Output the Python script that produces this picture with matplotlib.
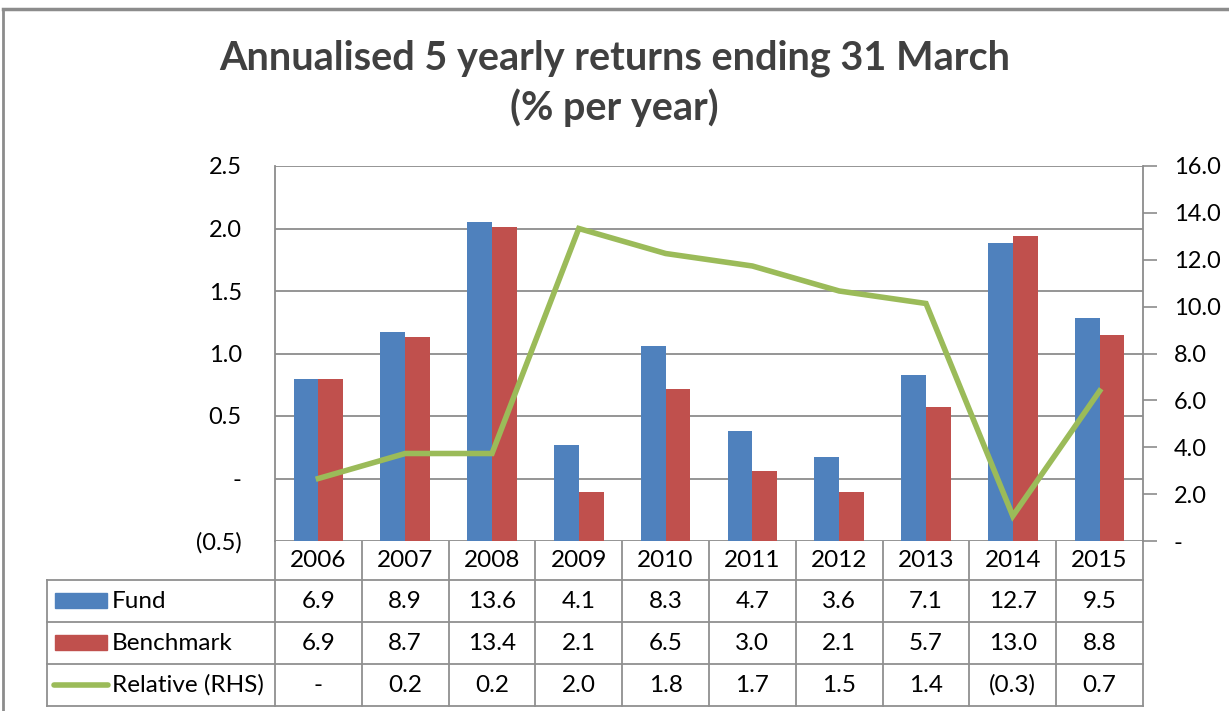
import matplotlib.pyplot as plt
import numpy as np

plt.rcParams['font.family'] = ['Lato', 'DejaVu Sans']

# data
years = ["2006", "2007", "2008", "2009", "2010", "2011", "2012", "2013", "2014", "2015"]
fund = [6.9, 8.9, 13.6, 4.1, 8.3, 4.7, 3.6, 7.1, 12.7, 9.5]
benchmark = [6.9, 8.7, 13.4, 2.1, 6.5, 3.0, 2.1, 5.7, 13.0, 8.8]
relative = [0.0, 0.2, 0.2, 2.0, 1.8, 1.7, 1.5, 1.4, -0.3, 0.7]

left_ticks = [-0.5, 0.0, 0.5, 1.0, 1.5, 2.0, 2.5]
right_ticks = [0, 2, 4, 6, 8, 10, 12, 14, 16]

BLUE = "#4F81BD"
RED = "#C0504D"
GREEN = "#9BBB59"
GRID = "#8C8C8C"


def fmt(v, nd=1):
    if abs(v) < 1e-9:
        return "-"
    if v < 0:
        return f"({abs(v):.{nd}f})"
    return f"{v:.{nd}f}"


W, H = 1229, 711
fig = plt.figure(figsize=(W / 100, H / 100), dpi=100)

# plot area in pixels
L, R, T, B = 275, 1143, 166, 541
ax = fig.add_axes([L / W, 1 - B / H, (R - L) / W, (B - T) / H])
ax2 = ax.twinx()

x = np.arange(len(years))
bw = 0.286

# bars on the right-hand scale
ax.bar(x - bw / 2, fund, bw, color=BLUE, zorder=3)
ax.bar(x + bw / 2, benchmark, bw, color=RED, zorder=3)
ax.set_xlim(-0.5, len(years) - 0.5)
ax.set_ylim(0, 16)

# gridlines follow the left-hand scale
for t in left_ticks:
    ax.axhline((t + 0.5) * 16 / 3, color=GRID, lw=1.3, zorder=1)

ax.yaxis.tick_right()
ax.set_yticks(right_ticks)
ax.set_yticklabels([fmt(t) for t in right_ticks], fontsize=17)
ax.tick_params(axis='y', direction='out', length=10, width=1.2, color=GRID, pad=12)
ax.set_xticks([])
for s in ["top", "bottom"]:
    ax.spines[s].set_visible(False)
for s in ["left", "right"]:
    ax.spines[s].set_color(GRID)
    ax.spines[s].set_linewidth(1.3)

# line on the left-hand scale
ax2.plot(x, relative, color=GREEN, lw=4, solid_joinstyle='miter', zorder=4)
ax2.set_ylim(-0.5, 2.5)
ax2.yaxis.tick_left()
ax2.set_yticks(left_ticks)
ax2.set_yticklabels([fmt(t) for t in left_ticks], fontsize=17)
ax2.tick_params(axis='y', length=0, pad=24)
for s in ax2.spines.values():
    s.set_visible(False)

# overlay for table, title and border
ov = fig.add_axes([0, 0, 1, 1], zorder=-5)
ov.set_xlim(0, W)
ov.set_ylim(H, 0)
ov.axis("off")

ov.plot([3, W], [9, 9], color=GRID, lw=2.5)
ov.plot([3, 3], [9, H], color=GRID, lw=2)

fig.text(0.5, 1 - 58 / H, "Annualised 5 yearly returns ending 31 March",
         ha="center", va="center", fontsize=28.5, fontweight="bold", color="#404040")
fig.text(0.5, 1 - 108 / H, "(% per year)",
         ha="center", va="center", fontsize=28.5, fontweight="bold", color="#404040")

# data table
cw = (R - L) / len(years)
rows_y = [541, 580, 622, 664, 706]
tl = 47
lc = "#909090"
for i in range(len(years) + 1):
    xx = L + i * cw
    ov.plot([xx, xx], [rows_y[0], rows_y[-1]], color=lc, lw=1.3)
ov.plot([tl, tl], [rows_y[1], rows_y[-1]], color=lc, lw=1.3)
for j, yy in enumerate(rows_y[1:]):
    ov.plot([tl, R], [yy, yy], color=lc, lw=1.3)

for i, yr in enumerate(years):
    cx = L + (i + 0.5) * cw
    ov.text(cx, (rows_y[0] + rows_y[1]) / 2, yr, ha="center", va="center", fontsize=17.5)
    for j, series in enumerate([fund, benchmark, relative]):
        ov.text(cx, (rows_y[j + 1] + rows_y[j + 2]) / 2, fmt(series[i]),
                ha="center", va="center", fontsize=17.5)

labels = ["Fund", "Benchmark", "Relative (RHS)"]
for j, lab in enumerate(labels):
    cy = (rows_y[j + 1] + rows_y[j + 2]) / 2
    if j < 2:
        ov.add_patch(plt.Rectangle((55, cy - 8), 52, 15, color=[BLUE, RED][j]))
    else:
        ov.plot([54, 108], [cy, cy], color=GREEN, lw=4, solid_capstyle="round")
    ov.text(112, cy, lab, ha="left", va="center", fontsize=17.5)

fig.savefig("out.png", dpi=100)
